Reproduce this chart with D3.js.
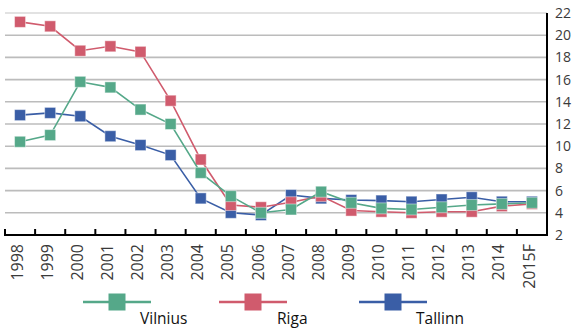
<!DOCTYPE html>
<html>
<head>
<meta charset="utf-8">
<script src="https://cdn.jsdelivr.net/npm/d3@7"></script>
<style>
  html, body { margin: 0; padding: 0; background: #fff; }
  svg { display: block; font-family: "Open Sans", "DejaVu Sans", sans-serif; }
</style>
</head>
<body>
<svg id="chart" width="574" height="329"></svg>
<script>
// Years on the category axis
const years = ["1998","1999","2000","2001","2002","2003","2004","2005","2006",
               "2007","2008","2009","2010","2011","2012","2013","2014","2015F"];

// Series values per city
const vilnius = [10.4, 11.0, 15.8, 15.3, 13.3, 12.0, 7.6, 5.5, 4.0, 4.3, 5.9, 4.9, 4.4, 4.3, 4.5, 4.7, 4.8, 4.9];
const riga    = [21.2, 20.8, 18.6, 19.0, 18.5, 14.1, 8.8, 4.7, 4.5, 4.95, 5.5, 4.2, 4.1, 4.0, 4.1, 4.1, 4.6, 4.8];
const tallinn = [12.8, 13.0, 12.7, 10.9, 10.1, 9.2, 5.3, 4.0, 3.8, 5.6, 5.3, 5.15, 5.1, 5.0, 5.2, 5.4, 5.0, 5.0];

// Value axis ticks
const yTicks = [2, 4, 6, 8, 10, 12, 14, 16, 18, 20, 22];

const seriesNames = ["Vilnius", "Riga", "Tallinn"];
const seriesColors = ["#55a889", "#d05b6d", "#3a5ea6"];
const seriesValues = [vilnius, riga, tallinn];

const svg = d3.select("#chart");
const plotLeft = 5, plotRight = 547, plotTop = 13, plotBottom = 235;

const x = d3.scaleBand().domain(years).range([plotLeft, plotRight]).padding(0);
const y = d3.scaleLinear().domain([2, 22]).range([plotBottom, plotTop]);
const cx = d => x(d) + x.bandwidth() / 2;

// Horizontal gridlines
svg.append("g").selectAll("line")
  .data(yTicks.filter(t => t > 2))
  .join("line")
  .attr("x1", plotLeft).attr("x2", plotRight)
  .attr("y1", d => y(d)).attr("y2", d => y(d))
  .attr("stroke", d => d === 22 ? "#d9d9d9" : "#bcbcbc")
  .attr("stroke-width", 1.6);

// Right value axis
const yAxis = d3.axisRight(y).tickValues(yTicks).tickSize(0).tickPadding(8);
const gy = svg.append("g").attr("transform", `translate(${plotRight},0)`).call(yAxis);
gy.select(".domain").attr("stroke", "#000").attr("stroke-width", 2)
  .attr("d", `M0,${plotTop}V${plotBottom + 1}`);
gy.selectAll("text").attr("fill", "#3a3a3a").style("font-size", "14px");
gy.attr("font-family", null).attr("font-size", null);

// Bottom category axis with inward tick marks at category boundaries
const gx = svg.append("g");
gx.append("line")
  .attr("x1", plotLeft - 1).attr("x2", plotRight + 1)
  .attr("y1", plotBottom).attr("y2", plotBottom)
  .attr("stroke", "#000").attr("stroke-width", 2);
gx.selectAll("line.tick")
  .data(years)
  .join("line").attr("class", "tick")
  .attr("x1", d => x(d)).attr("x2", d => x(d))
  .attr("y1", plotBottom).attr("y2", plotBottom - 6)
  .attr("stroke", "#000").attr("stroke-width", 2);
gx.selectAll("text")
  .data(years)
  .join("text")
  .attr("transform", d => `translate(${cx(d) - 3},${plotBottom + 9}) rotate(-90)`)
  .attr("text-anchor", "end")
  .attr("dy", "0.35em")
  .attr("fill", "#3a3a3a")
  .style("font-size", "16px")
  .text(d => d);

// Lines and square markers
const line = d3.line().x((d, i) => cx(years[i])).y(d => y(d));
const order = [2, 1, 0];
const ms = 11;
order.forEach(k => {
  const g = svg.append("g");
  g.append("path")
    .datum(seriesValues[k])
    .attr("d", line)
    .attr("fill", "none")
    .attr("stroke", seriesColors[k])
    .attr("stroke-width", 1.6);
  g.selectAll("rect")
    .data(seriesValues[k])
    .join("rect")
    .attr("x", (d, i) => cx(years[i]) - ms / 2)
    .attr("y", d => y(d) - ms / 2)
    .attr("width", ms).attr("height", ms)
    .attr("fill", seriesColors[k])
    .attr("stroke", "#ffffff").attr("stroke-opacity", 0.45).attr("stroke-width", 1);
});

// Legend
const legendX = [117, 253, 393];
const legendTextX = [140, 277, 416];
const legend = svg.append("g");
seriesNames.forEach((name, k) => {
  legend.append("line")
    .attr("x1", legendX[k] - 34).attr("x2", legendX[k] + 34)
    .attr("y1", 302).attr("y2", 302)
    .attr("stroke", seriesColors[k]).attr("stroke-width", 2.5);
  legend.append("rect")
    .attr("x", legendX[k] - 8.5).attr("y", 302 - 8.5)
    .attr("width", 17).attr("height", 17)
    .attr("fill", seriesColors[k]);
  legend.append("text")
    .attr("x", legendTextX[k]).attr("y", 324)
    .attr("fill", "#111")
    .style("font-size", "15.5px")
    .text(name);
});
</script>
</body>
</html>
